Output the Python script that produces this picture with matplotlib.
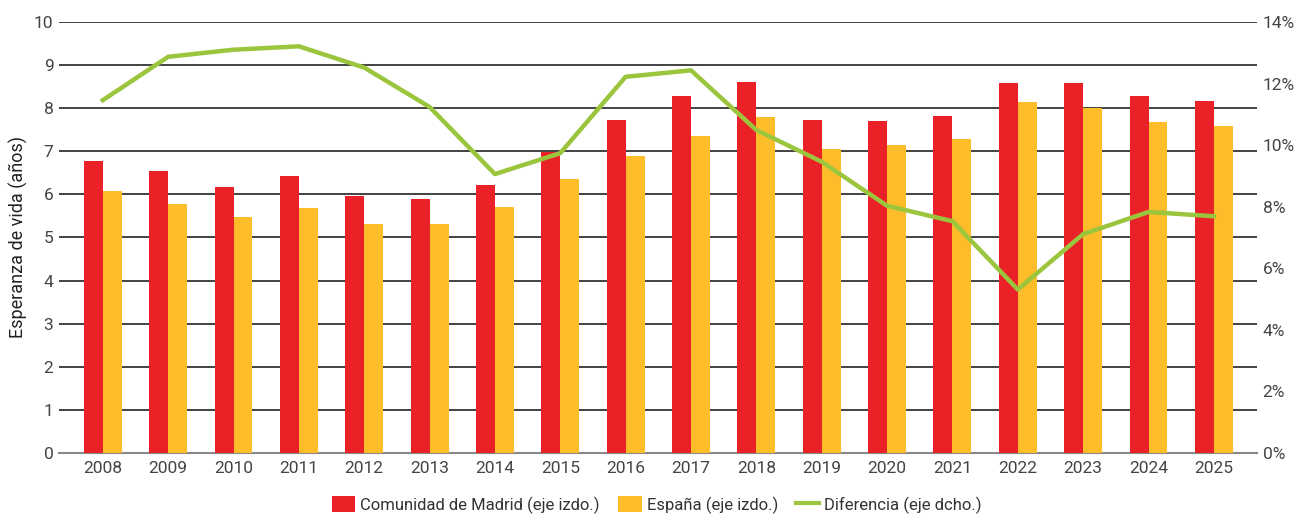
import matplotlib
matplotlib.use("Agg")
import matplotlib.pyplot as plt
import numpy as np
from matplotlib.ticker import FuncFormatter
from matplotlib.lines import Line2D
from matplotlib.patches import Patch

years = [str(y) for y in range(2008, 2026)]
madrid = [6.77, 6.54, 6.17, 6.43, 5.96, 5.89, 6.22, 6.99, 7.73, 8.28, 8.61, 7.73, 7.70, 7.82, 8.58, 8.58, 8.28, 8.17]
espana = [6.08, 5.78, 5.48, 5.68, 5.31, 5.31, 5.71, 6.36, 6.89, 7.36, 7.80, 7.05, 7.15, 7.29, 8.14, 8.00, 7.68, 7.59]
diferencia = [11.46, 12.87, 13.10, 13.21, 12.52, 11.24, 9.06, 9.74, 12.22, 12.43, 10.49, 9.46, 8.03, 7.53, 5.31, 7.11, 7.83, 7.69]

RED = "#EB2128"
YEL = "#FDBD2A"
GRN = "#9BC53D"
TXT = "#444444"
plt.rcParams["font.family"] = ["Roboto", "DejaVu Sans"]

fig = plt.figure(figsize=(12.96, 5.15), dpi=100)
ax = fig.add_axes([59/1296, 62/515, (1257-59)/1296, (453-22)/515])
x = np.arange(len(years))
w = 0.29
ax.bar(x - w/2, madrid, width=w, color=RED, zorder=3)
ax.bar(x + w/2, espana, width=w, color=YEL, zorder=3)
ax.set_ylim(0, 10)
ax.set_yticks(range(0, 11))
ax.set_xlim(-0.67, len(years) - 1 + 0.66)
ax.set_xticks(x)
ax.set_xticklabels(years)
ax.grid(axis="y", color="#222222", linewidth=1.2, zorder=0)
for s in ["top", "right", "left"]:
    ax.spines[s].set_visible(False)
ax.spines["bottom"].set_color("#888888")
ax.spines["bottom"].set_linewidth(1.5)
ax.tick_params(axis="both", length=0, labelsize=12.5, colors=TXT, pad=4)
ax.tick_params(axis="x", pad=6)
ax.set_ylabel("Esperanza de vida (años)", fontsize=13, color="#222222", labelpad=4)

ax2 = ax.twinx()
ax2.plot(x, diferencia, color=GRN, linewidth=3.2, zorder=5)
ax2.set_ylim(0, 14)
ax2.set_yticks(range(0, 15, 2))
ax2.yaxis.set_major_formatter(FuncFormatter(lambda v, p: f"{int(v)}%"))
ax2.tick_params(axis="y", length=0, labelsize=12.5, colors=TXT, pad=4)
for s in ["top", "right", "left", "bottom"]:
    ax2.spines[s].set_visible(False)

handles = [Patch(facecolor=RED, edgecolor="none"), Patch(facecolor=YEL, edgecolor="none"),
           Line2D([0], [0], color=GRN, linewidth=3)]
labels = ["Comunidad de Madrid (eje izdo.)", "España (eje izdo.)", "Diferencia (eje dcho.)"]
fig.legend(handles, labels, loc="center", bbox_to_anchor=(657/1296, 1 - 505/515), ncol=3,
           frameon=False, fontsize=12, labelcolor="#333333", handlelength=1.4, handleheight=1.1,
           handletextpad=0.3, columnspacing=1.1)

fig.savefig("out.png", dpi=100)
